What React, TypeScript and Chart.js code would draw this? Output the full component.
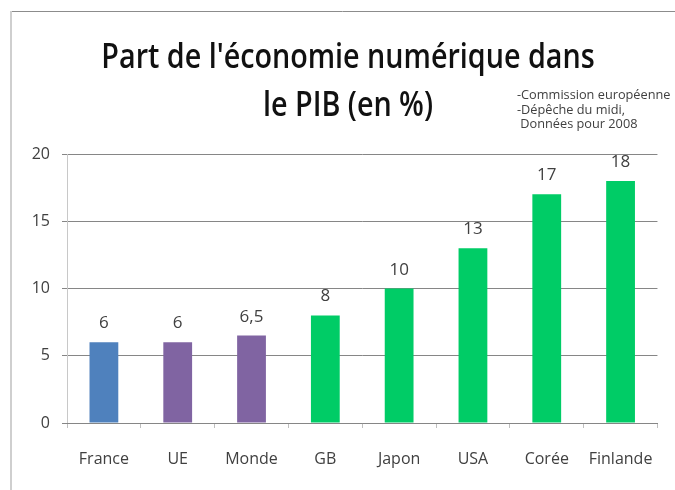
import React, { useEffect, useRef } from "react";
import { Chart, registerables } from "chart.js";

Chart.register(...registerables);

const categories = ["France", "UE", "Monde", "GB", "Japon", "USA", "Corée", "Finlande"];
const values = [6, 6, 6.5, 8, 10, 13, 17, 18];
const barColors = ["#4F81BD", "#8064A2", "#8064A2", "#00CC66", "#00CC66", "#00CC66", "#00CC66", "#00CC66"];
const titleLines = ["Part de l'économie numérique dans", "le PIB (en %)"];
const sourceLines = ["-Commission européenne", "-Dépêche du midi,", " Données pour 2008"];
const yTicks = [0, 5, 10, 15, 20];

const FONT = '"Open Sans", "Noto Sans", sans-serif';

const decorPlugin = {
  id: "decor",
  beforeDraw(chart: any) {
    const ctx = chart.ctx;
    ctx.save();
    ctx.fillStyle = "#ffffff";
    ctx.fillRect(0, 0, chart.width, chart.height);
    // frame
    ctx.strokeStyle = "#8c8c8c";
    ctx.lineWidth = 1;
    ctx.beginPath();
    ctx.moveTo(10, 11.5);
    ctx.lineTo(chart.width, 11.5);
    ctx.stroke();
    ctx.strokeStyle = "#cfcfcf";
    ctx.lineWidth = 2;
    ctx.beginPath();
    ctx.moveTo(11, 11);
    ctx.lineTo(11, chart.height);
    ctx.stroke();
    ctx.restore();
  },
  afterDraw(chart: any) {
    const ctx = chart.ctx;
    ctx.save();
    // title, condensed
    ctx.fillStyle = "#111111";
    ctx.font = `600 35px ${FONT}`;
    ctx.textAlign = "center";
    ctx.textBaseline = "alphabetic";
    const cx = 348;
    const sx = 0.82;
    titleLines.forEach((line, i) => {
      ctx.save();
      ctx.translate(cx, 68 + i * 48);
      ctx.scale(sx, 1);
      ctx.fillText(line, 0, 0);
      ctx.restore();
    });
    // source note
    ctx.fillStyle = "#404040";
    ctx.font = `13px ${FONT}`;
    ctx.textAlign = "left";
    sourceLines.forEach((line, i) => {
      ctx.save();
      ctx.translate(517, 99 + i * 14.5);
      ctx.scale(0.98, 1);
      ctx.fillText(line, 0, 0);
      ctx.restore();
    });
    ctx.restore();
  },
  afterDatasetsDraw(chart: any) {
    const ctx = chart.ctx;
    const meta = chart.getDatasetMeta(0);
    ctx.save();
    ctx.fillStyle = "#404040";
    ctx.font = `17px ${FONT}`;
    ctx.textAlign = "center";
    ctx.textBaseline = "alphabetic";
    meta.data.forEach((bar: any, i: number) => {
      const txt = String(values[i]).replace(".", ",");
      ctx.fillText(txt, bar.x, bar.y - 14);
    });
    ctx.restore();
  },
};

export default function App() {
  const ref = useRef<HTMLCanvasElement | null>(null);
  useEffect(() => {
    if (!ref.current) return;
    const chart = new Chart(ref.current, {
      type: "bar",
      data: {
        labels: categories,
        datasets: [
          {
            data: values,
            backgroundColor: barColors,
            borderWidth: 0,
            barPercentage: 0.39,
            categoryPercentage: 1,
          },
        ],
      },
      options: {
        responsive: false,
        maintainAspectRatio: false,
        animation: false,
        layout: { padding: { top: 154, right: 10, left: 0, bottom: 0 } },
        plugins: {
          legend: { display: false },
          tooltip: { enabled: false },
          title: { display: false },
        },
        scales: {
          y: {
            min: 0,
            max: 20,
            afterFit(scale: any) {
              scale.width = 67;
            },
            afterBuildTicks(scale: any) {
              scale.ticks = yTicks.map((v) => ({ value: v }));
            },
            ticks: {
              color: "#404040",
              font: { family: FONT, size: 16 },
              padding: 12,
            },
            grid: {
              color: "#868686",
              tickLength: 5,
              drawTicks: true,
            },
            border: { display: true, color: "#c8c8c8" },
          },
          x: {
            afterFit(scale: any) {
              scale.height = 67;
            },
            ticks: {
              color: "#404040",
              font: { family: FONT, size: 16 },
              padding: 22,
            },
            grid: {
              drawOnChartArea: false,
              drawTicks: true,
              tickLength: 5,
              color: "#bfbfbf",
              offset: true,
            },
            border: { display: true, color: "#868686" },
          },
        },
      },
      plugins: [decorPlugin],
    });
    return () => chart.destroy();
  }, []);
  return (
    <div style={{ position: "absolute", left: 0, top: 0, width: 675, height: 490 }}>
      <canvas ref={ref} width={675} height={490} style={{ display: "block" }} />
    </div>
  );
}
